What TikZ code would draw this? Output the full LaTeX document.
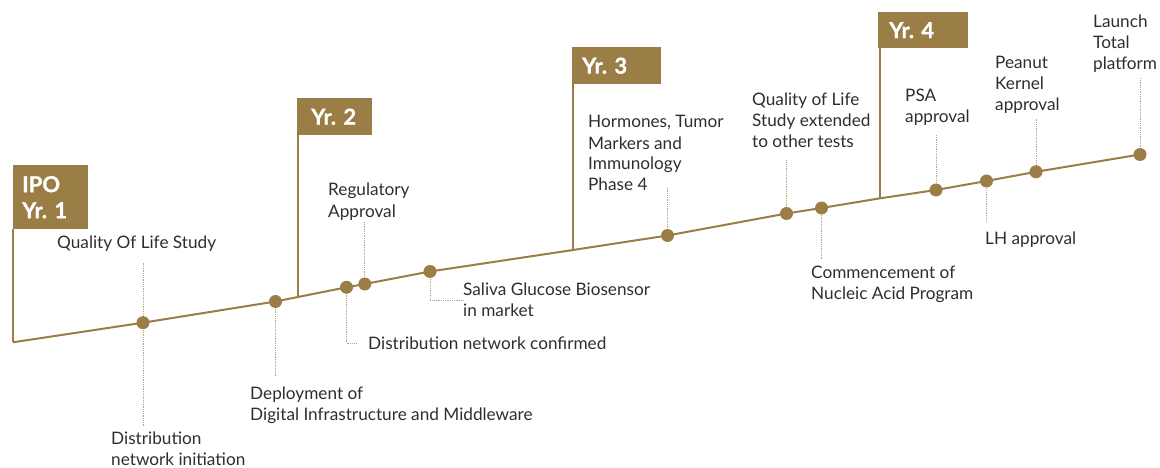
\documentclass[tikz,border=0pt]{standalone}
\usepackage{fontspec}
\setmainfont{Lato}[BoldFeatures={FakeBold=0.8}]
\frenchspacing
\definecolor{gold}{HTML}{9B7D46}
\definecolor{lead}{HTML}{B9A57E}
\definecolor{txt}{HTML}{2E2E2E}
\begin{document}
\begin{tikzpicture}[x=1pt,y=-1pt,
  dot/.style={circle,fill=gold,inner sep=0,minimum size=13pt},
  lbl/.style={anchor=base west,inner sep=0,align=left,text=txt,font=\fontsize{17.2}{21}\selectfont},
  leader/.style={draw=lead,line width=1pt,dash pattern=on 0.9pt off 0.9pt},
  flag/.style={anchor=north west,fill=gold,text=white,inner sep=0,align=left,font=\fontsize{22}{26}\selectfont\bfseries},
  flagline/.style={draw=gold,line width=1.6pt},
  mainline/.style={draw=gold,line width=2pt}]
\useasboundingbox (0,0) rectangle (1160,468);
% timeline points
\coordinate (start) at (13,342.3);
\coordinate (p1) at (143,322.7);
\coordinate (p2) at (275.5,301.5);
\coordinate (foot2) at (298,297);
\coordinate (p3) at (346.5,287.3);
\coordinate (p4) at (364.8,284);
\coordinate (p5) at (430,271.5);
\coordinate (foot3) at (573,250);
\coordinate (p6) at (667.5,235.5);
\coordinate (p7) at (786.5,213.5);
\coordinate (p8) at (821.5,208);
\coordinate (foot4) at (880,198.3);
\coordinate (p9) at (936,190);
\coordinate (p10) at (986.5,181);
\coordinate (p11) at (1036,171.8);
\coordinate (p12) at (1140,154.5);
\draw[mainline] (start) -- (p1) -- (p2) -- (foot2) -- (p3) -- (p4) -- (p5) -- (foot3) -- (p6) -- (p7) -- (p8) -- (foot4) -- (p9) -- (p10) -- (p11) -- (p12);
% flags
\node[flag,text width=75pt,minimum height=64pt] (f1) at (13,165) {\hspace*{9pt}IPO\\\hspace*{9pt}Yr. 1};
\node[flag,text width=75pt,minimum height=37pt] (f2) at (297,98) {\hspace*{14pt}Yr. 2};
\node[flag,text width=89pt,minimum height=37pt] (f3) at (572,47) {\hspace*{10pt}Yr. 3};
\node[flag,text width=90pt,minimum height=36pt] (f4) at (878,12) {\hspace*{11pt}Yr. 4};
\draw[flagline] (f1.south west -| start) -- (start);
\draw[flagline] (f2.south west -| foot2) -- (foot2);
\draw[flagline] (f3.south west -| foot3) -- (foot3);
\draw[flagline] (f4.south west -| foot4) -- (foot4);
% leader ends
\coordinate (e1u) at (143,263);
\coordinate (e1d) at (143,427);
\coordinate (e2) at (275.5,377);
\coordinate (e3a) at (346.5,343);
\coordinate (e3b) at (357,343);
\coordinate (e4) at (364.8,221);
\coordinate (e5a) at (430,300);
\coordinate (e5b) at (463,300);
\coordinate (e6) at (667.5,187);
\coordinate (e7) at (786.5,160);
\coordinate (e8) at (821.5,260);
\coordinate (e9) at (936,135);
\coordinate (e10) at (986.5,222);
\coordinate (e11) at (1036,118);
\coordinate (e12) at (1140,78);
\draw[leader] (p1) -- (e1u);
\draw[leader] (p1) -- (e1d);
\draw[leader] (p2) -- (e2);
\draw[leader] (p3) -- (e3a) -- (e3b);
\draw[leader] (p4) -- (e4);
\draw[leader] (p5) -- (e5a) -- (e5b);
\draw[leader] (p6) -- (e6);
\draw[leader] (p7) -- (e7);
\draw[leader] (p8) -- (e8);
\draw[leader] (p9) -- (e9);
\draw[leader] (p10) -- (e10);
\draw[leader] (p11) -- (e11);
\draw[leader] (p12) -- (e12);
% dots
\foreach \i in {1,...,12} {\node[dot] (d\i) at (p\i) {};}
% labels (anchor = baseline of the last line)
\node[lbl] (l1) at (57,248) {Quality Of Life Study};
\node[lbl] (l1b) at (111,465) {Distribution\\network initiation};
\node[lbl] (l2) at (250,420) {Deployment of\\Digital Infrastructure and Middleware};
\node[lbl] (l3) at (368,349) {Distribution network confirmed};
\node[lbl] (l4) at (328,217) {Regulatory\\Approval};
\node[lbl] (l5) at (463,316) {Saliva Glucose Biosensor\\in market};
\node[lbl] (l6) at (588,191) {Hormones, Tumor\\Markers and\\Immunology\\Phase 4};
\node[lbl] (l7) at (752,148) {Quality of Life\\Study extended\\to other tests};
\node[lbl] (l8) at (811,299) {Commencement of\\Nucleic Acid Program};
\node[lbl] (l9) at (905,123) {PSA\\approval};
\node[lbl] (l10) at (985,244) {LH approval};
\node[lbl] (l11) at (995,111) {Peanut\\Kernel\\approval};
\node[lbl] (l12) at (1093,70) {Launch\\Total\\platform};
\end{tikzpicture}
\end{document}
